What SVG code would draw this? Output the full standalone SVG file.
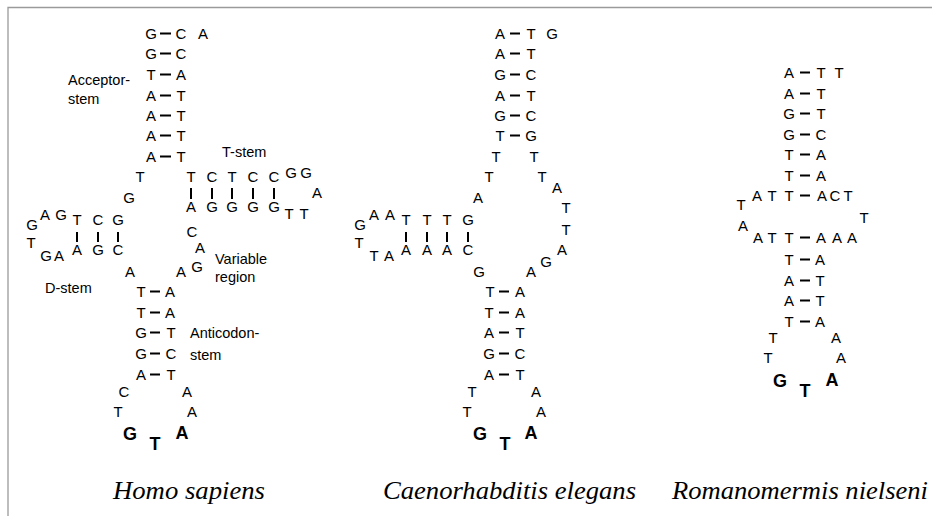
<svg xmlns="http://www.w3.org/2000/svg" width="932" height="516" viewBox="0 0 932 516">
<style>
text{fill:#000}
.b{font-family:"Liberation Sans",Arial,sans-serif;font-size:15px;text-anchor:middle}
.bb{font-family:"Liberation Sans",Arial,sans-serif;font-size:18px;font-weight:bold;text-anchor:middle}
.l{font-family:"Liberation Sans",Arial,sans-serif;font-size:14.5px}
.sp{font-family:"Liberation Serif","Times New Roman",serif;font-size:26px;font-style:italic}
.bond{stroke:#000;stroke-width:2;fill:none}
.frame{stroke:#9a9a9a;stroke-width:1.3;fill:none}
</style>
<rect width="932" height="516" fill="#fff"/>
<path class="frame" d="M8,516 V7.5 H932"/>

<g id="connectors">
  <path class="bond" d="M160,33.5h11M160,53.5h11M160,74.5h11M160,95.5h11M160,115.5h11M160,135.5h11M160,156.5h11"/>
  <path class="bond" d="M191,188v11M212,188v11M232,188v11M253,188v11M274,188v11"/>
  <path class="bond" d="M77,232v10M98,232v10M118,232v10"/>
  <path class="bond" d="M150,291.5h10M150,312.5h10M150,332.5h10M150,353.5h10M150,374.5h10"/>
  <path class="bond" d="M510,33.5h10M510,53.5h10M510,74.5h10M510,95.5h10M510,115.5h10M510,135.5h10"/>
  <path class="bond" d="M406,232v10M427,232v10M447,232v10M468,232v10"/>
  <path class="bond" d="M499,291.5h10M499,312.5h10M499,332.5h10M499,353.5h10M499,374.5h10"/>
  <path class="bond" d="M800,72.5h10M800,93.5h10M800,113.5h10M800,134.5h10M800,154.5h10M800,175.5h10M800,195.5h10M800,237.5h10M800,259.5h10M800,280.5h10M800,300.5h10M800,321.5h10"/>
</g>

<g id="homo-sapiens">
  <g id="homo-acceptor-stem">
    <text class="b" x="151" y="39">G</text><text class="b" x="181" y="39">C</text><text class="b" x="203" y="39">A</text>
    <text class="b" x="151" y="59">G</text><text class="b" x="181" y="59">C</text>
    <text class="b" x="151" y="80">T</text><text class="b" x="181" y="80">A</text>
    <text class="b" x="151" y="101">A</text><text class="b" x="181" y="101">T</text>
    <text class="b" x="151" y="121">A</text><text class="b" x="181" y="121">T</text>
    <text class="b" x="151" y="141">A</text><text class="b" x="181" y="141">T</text>
    <text class="b" x="151" y="162">A</text><text class="b" x="181" y="162">T</text>
    <text class="l" x="68" y="85">Acceptor-</text>
    <text class="l" x="68" y="104">stem</text>
  </g>
  <g id="homo-t-arm">
    <text class="b" x="140" y="182">T</text>
    <text class="b" x="129" y="203">G</text>
    <text class="b" x="191" y="182">T</text><text class="b" x="212" y="182">C</text><text class="b" x="232" y="182">T</text><text class="b" x="253" y="182">C</text><text class="b" x="274" y="182">C</text>
    <text class="b" x="291" y="178">G</text><text class="b" x="306" y="178">G</text>
    <text class="b" x="317" y="198">A</text>
    <text class="b" x="289" y="219">T</text><text class="b" x="304" y="219">T</text>
    <text class="b" x="191" y="212">A</text><text class="b" x="212" y="212">G</text><text class="b" x="232" y="212">G</text><text class="b" x="253" y="212">G</text><text class="b" x="274" y="212">G</text>
    <text class="l" x="222" y="157">T-stem</text>
  </g>
  <g id="homo-d-arm">
    <text class="b" x="77" y="225">T</text><text class="b" x="98" y="225">C</text><text class="b" x="118" y="225">G</text>
    <text class="b" x="45" y="220">A</text><text class="b" x="61" y="220">G</text>
    <text class="b" x="32" y="230">G</text>
    <text class="b" x="31" y="248">T</text>
    <text class="b" x="46" y="261">G</text><text class="b" x="59" y="261">A</text>
    <text class="b" x="77" y="255">A</text><text class="b" x="98" y="255">G</text><text class="b" x="118" y="255">C</text>
    <text class="l" x="45" y="293">D-stem</text>
  </g>
  <g id="homo-variable">
    <text class="b" x="192" y="237">C</text>
    <text class="b" x="200" y="253">A</text>
    <text class="b" x="197" y="272">G</text>
    <text class="b" x="181" y="277">A</text>
    <text class="b" x="130" y="277">A</text>
    <text class="l" x="215" y="264">Variable</text>
    <text class="l" x="215" y="282">region</text>
  </g>
  <g id="homo-anticodon">
    <text class="b" x="141" y="297">T</text><text class="b" x="170" y="297">A</text>
    <text class="b" x="141" y="318">T</text><text class="b" x="170" y="318">A</text>
    <text class="b" x="141" y="338">G</text><text class="b" x="171" y="338">T</text>
    <text class="b" x="141" y="359">G</text><text class="b" x="171" y="359">C</text>
    <text class="b" x="141" y="380">A</text><text class="b" x="171" y="380">T</text>
    <text class="b" x="124" y="397">C</text><text class="b" x="187" y="397">A</text>
    <text class="b" x="118" y="417">T</text><text class="b" x="192" y="417">A</text>
    <text class="bb" x="130" y="440">G</text><text class="bb" x="155" y="450">T</text><text class="bb" x="182" y="439">A</text>
    <text class="l" x="190" y="338">Anticodon-</text>
    <text class="l" x="190" y="360">stem</text>
  </g>
</g>

<g id="caenorhabditis-elegans">
  <g id="ce-acceptor-stem">
    <text class="b" x="500" y="39">A</text><text class="b" x="531" y="39">T</text><text class="b" x="552" y="39">G</text>
    <text class="b" x="500" y="59">A</text><text class="b" x="531" y="59">T</text>
    <text class="b" x="500" y="80">G</text><text class="b" x="531" y="80">C</text>
    <text class="b" x="500" y="101">A</text><text class="b" x="531" y="101">T</text>
    <text class="b" x="500" y="121">G</text><text class="b" x="531" y="121">C</text>
    <text class="b" x="500" y="141">T</text><text class="b" x="531" y="141">G</text>
    <text class="b" x="496" y="162">T</text><text class="b" x="534" y="162">T</text>
  </g>
  <g id="ce-loop">
    <text class="b" x="489" y="182">T</text><text class="b" x="542" y="182">T</text>
    <text class="b" x="557" y="193">A</text>
    <text class="b" x="478" y="203">A</text>
    <text class="b" x="566" y="213">T</text>
    <text class="b" x="566" y="235">T</text>
    <text class="b" x="562" y="255">A</text>
    <text class="b" x="546" y="267">G</text>
    <text class="b" x="531" y="277">A</text>
    <text class="b" x="479" y="277">G</text>
  </g>
  <g id="ce-d-arm">
    <text class="b" x="406" y="225">T</text><text class="b" x="427" y="225">T</text><text class="b" x="447" y="225">T</text><text class="b" x="468" y="225">G</text>
    <text class="b" x="374" y="220">A</text><text class="b" x="390" y="220">A</text>
    <text class="b" x="360" y="230">G</text>
    <text class="b" x="359" y="248">T</text>
    <text class="b" x="374" y="261">T</text><text class="b" x="389" y="261">A</text>
    <text class="b" x="406" y="255">A</text><text class="b" x="427" y="255">A</text><text class="b" x="447" y="255">A</text><text class="b" x="468" y="255">C</text>
  </g>
  <g id="ce-anticodon">
    <text class="b" x="490" y="297">T</text><text class="b" x="520" y="297">A</text>
    <text class="b" x="489" y="318">T</text><text class="b" x="520" y="318">A</text>
    <text class="b" x="489" y="338">A</text><text class="b" x="520" y="338">T</text>
    <text class="b" x="489" y="359">G</text><text class="b" x="520" y="359">C</text>
    <text class="b" x="489" y="380">A</text><text class="b" x="520" y="380">T</text>
    <text class="b" x="472" y="397">T</text><text class="b" x="536" y="397">A</text>
    <text class="b" x="467" y="417">T</text><text class="b" x="541" y="417">A</text>
    <text class="bb" x="480" y="440">G</text><text class="bb" x="505" y="450">T</text><text class="bb" x="531" y="439">A</text>
  </g>
</g>

<g id="romanomermis-nielseni">
  <g id="rn-acceptor-stem">
    <text class="b" x="789" y="78">A</text><text class="b" x="821" y="78">T</text><text class="b" x="839" y="78">T</text>
    <text class="b" x="789" y="99">A</text><text class="b" x="821" y="99">T</text>
    <text class="b" x="789" y="119">G</text><text class="b" x="821" y="119">T</text>
    <text class="b" x="789" y="140">G</text><text class="b" x="821" y="140">C</text>
    <text class="b" x="789" y="160">T</text><text class="b" x="821" y="160">A</text>
    <text class="b" x="789" y="181">T</text><text class="b" x="821" y="181">A</text>
  </g>
  <g id="rn-middle">
    <text class="b" x="757" y="201">A</text><text class="b" x="772" y="201">T</text><text class="b" x="789" y="201">T</text>
    <text class="b" x="822" y="201">A</text><text class="b" x="835" y="201">C</text><text class="b" x="848" y="201">T</text>
    <text class="b" x="741" y="210">T</text>
    <text class="b" x="864" y="223">T</text>
    <text class="b" x="743" y="231">A</text>
    <text class="b" x="758" y="243">A</text><text class="b" x="772" y="243">T</text><text class="b" x="789" y="243">T</text>
    <text class="b" x="821" y="243">A</text><text class="b" x="837" y="243">A</text><text class="b" x="852" y="243">A</text>
  </g>
  <g id="rn-anticodon">
    <text class="b" x="789" y="265">T</text><text class="b" x="820" y="265">A</text>
    <text class="b" x="789" y="286">A</text><text class="b" x="820" y="286">T</text>
    <text class="b" x="789" y="306">A</text><text class="b" x="820" y="306">T</text>
    <text class="b" x="789" y="327">T</text><text class="b" x="820" y="327">A</text>
    <text class="b" x="773" y="343">T</text><text class="b" x="836" y="343">A</text>
    <text class="b" x="768" y="363">T</text><text class="b" x="841" y="363">A</text>
    <text class="bb" x="780" y="387">G</text><text class="bb" x="805" y="397">T</text><text class="bb" x="832" y="386">A</text>
  </g>
</g>

<g id="species-labels">
  <text class="sp" x="113" y="499" textLength="152" lengthAdjust="spacingAndGlyphs">Homo sapiens</text>
  <text class="sp" x="383" y="499" textLength="253" lengthAdjust="spacingAndGlyphs">Caenorhabditis elegans</text>
  <text class="sp" x="672" y="499" textLength="256" lengthAdjust="spacingAndGlyphs">Romanomermis nielseni</text>
</g>
</svg>
